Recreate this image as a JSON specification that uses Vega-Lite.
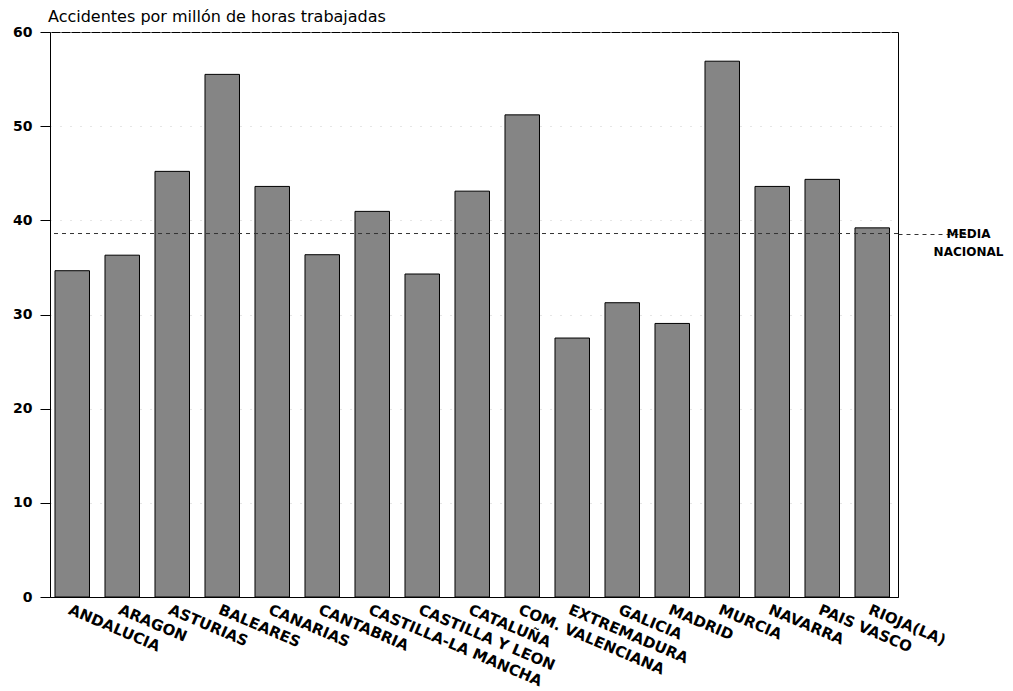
{
  "$schema": "https://vega.github.io/schema/vega-lite/v6.json",
  "autosize": "none",
  "width": 848,
  "height": 565,
  "padding": {"left": 50, "top": 32, "right": 115, "bottom": 94},
  "background": "white",
  "title": {
    "text": "Accidentes por millón de horas trabajadas",
    "anchor": "start",
    "frame": "group",
    "font": "DejaVu Sans",
    "fontSize": 16,
    "fontWeight": "normal",
    "color": "black",
    "baseline": "bottom",
    "offset": -16,
    "dx": -2
  },
  "layer": [
    {
      "data": {
        "values": [
          {"region": "ANDALUCIA", "accidentes": 34.65},
          {"region": "ARAGON", "accidentes": 36.3},
          {"region": "ASTURIAS", "accidentes": 45.2},
          {"region": "BALEARES", "accidentes": 55.5},
          {"region": "CANARIAS", "accidentes": 43.6},
          {"region": "CANTABRIA", "accidentes": 36.35},
          {"region": "CASTILLA-LA MANCHA", "accidentes": 40.95},
          {"region": "CASTILLA Y LEON", "accidentes": 34.3},
          {"region": "CATALUÑA", "accidentes": 43.1},
          {"region": "COM. VALENCIANA", "accidentes": 51.2},
          {"region": "EXTREMADURA", "accidentes": 27.5},
          {"region": "GALICIA", "accidentes": 31.25},
          {"region": "MADRID", "accidentes": 29.05},
          {"region": "MURCIA", "accidentes": 56.9},
          {"region": "NAVARRA", "accidentes": 43.6},
          {"region": "PAIS VASCO", "accidentes": 44.35},
          {"region": "RIOJA(LA)", "accidentes": 39.2}
        ]
      },
      "mark": {"type": "bar", "fill": "#858585", "stroke": "black", "strokeWidth": 1},
      "encoding": {
        "x": {
          "field": "region",
          "type": "nominal",
          "sort": null,
          "scale": {"paddingInner": 0.31, "paddingOuter": 0.135, "align": 0.37},
          "axis": {
            "title": null,
            "ticks": false,
            "labelAngle": 23,
            "labelAlign": "left",
            "labelBaseline": "top",
            "labelPadding": 5,
            "labelFont": "DejaVu Sans",
            "labelFontWeight": "bold",
            "labelFontSize": 15,
            "labelColor": "black",
            "labelLimit": 300,
            "domainColor": "black"
          }
        },
        "y": {
          "field": "accidentes",
          "type": "quantitative",
          "scale": {"domain": [0, 60], "nice": false},
          "axis": {
            "title": null,
            "values": [0, 10, 20, 30, 40, 50, 60],
            "tickSize": 10,
            "tickColor": "black",
            "labelPadding": 8,
            "labelFont": "DejaVu Sans",
            "labelFontWeight": "bold",
            "labelFontSize": 14,
            "labelColor": "black",
            "domainColor": "black",
            "grid": true,
            "gridColor": "#cccccc",
            "gridDash": [1, 9]
          }
        }
      }
    },
    {
      "data": {"values": [{"media": 38.6}]},
      "mark": {"type": "rule", "stroke": "#333333", "strokeWidth": 1, "strokeDash": [4, 4]},
      "encoding": {
        "y": {
          "field": "media",
          "type": "quantitative",
          "axis": {
            "orient": "right",
            "title": null,
            "grid": false,
            "domain": false,
            "values": [38.6],
            "tickSize": 70,
            "tickColor": "#333333",
            "tickDash": [4, 4],
            "labelExpr": "['MEDIA', 'NACIONAL']",
            "labelAlign": "center",
            "labelBaseline": "middle",
            "labelPadding": 0,
            "labelLineHeight": 18,
            "labelFont": "DejaVu Sans",
            "labelFontWeight": "bold",
            "labelFontSize": 12,
            "labelColor": "black",
            "labelBound": false
          }
        }
      }
    }
  ],
  "resolve": {"axis": {"y": "independent"}},
  "config": {
    "view": {"stroke": "black", "strokeWidth": 1}
  }
}
